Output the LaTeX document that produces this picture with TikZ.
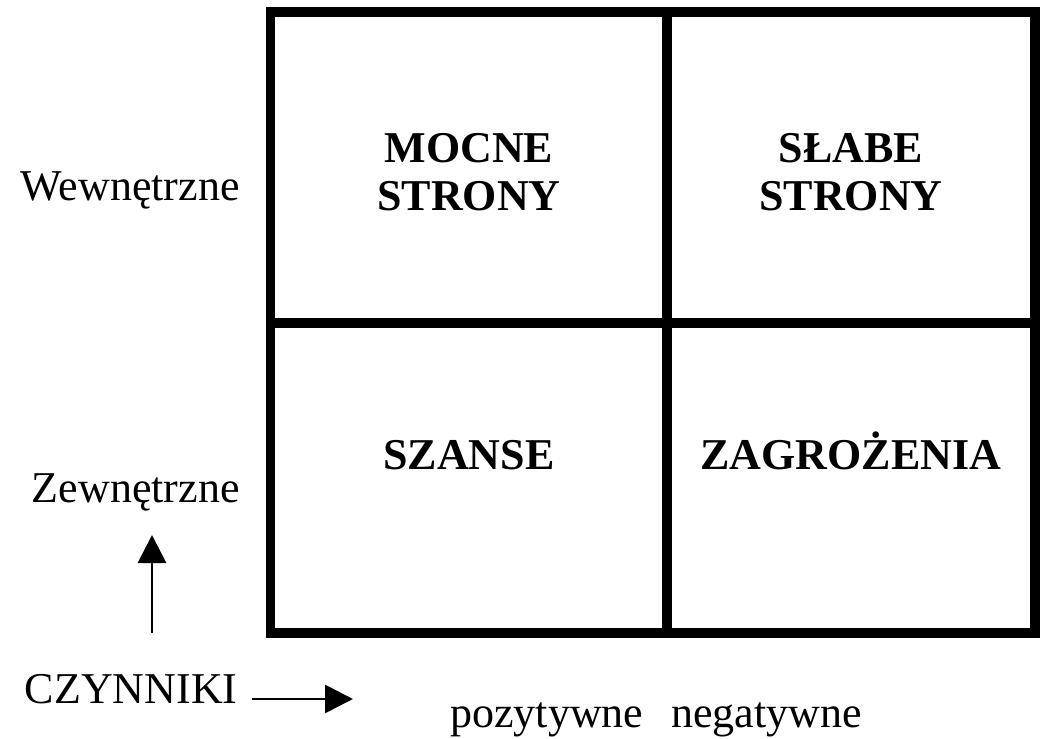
\documentclass[tikz,border=0pt]{standalone}
\usepackage{fontspec}
\setmainfont{Liberation Serif}
\usetikzlibrary{arrows.meta}
\tikzset{
  frame/.style={line width=4.8pt},
  factor/.style={-{Triangle[length=14pt,width=14pt]},line width=1.4pt}
}
\begin{document}
\begin{tikzpicture}[x=0.5pt,y=-0.5pt]
        \useasboundingbox (0,0) rectangle (1041,739);

        % the four fields
        \draw[frame] (270.5,12) rectangle (1035,633);
        \draw[frame] (667,12) -- (667,633);
        \draw[frame] (270.5,323) -- (1035,323);

        \begin{scope}[every node/.style={anchor=base,align=center,inner sep=0pt,font=\fontsize{22}{24}\selectfont\bfseries}]
          \node (mocne)     at (469,210) {MOCNE\\STRONY};
          \node (slabe)     at (851,210) {SŁABE\\STRONY};
          \node (szanse)    at (469,469) {SZANSE};
          \node (zagrozenia) at (851,469) {ZAGROŻENIA};
        \end{scope}

        \begin{scope}[every node/.style={inner sep=0pt,font=\fontsize{22}{24}\selectfont}]
          \node[anchor=base east] (wew)  at (240,200) {Wewnętrzne};
          \node[anchor=base east] (zew)  at (240,502) {Zewnętrzne};
          \node[anchor=base east] (czyn) at (238,703) {CZYNNIKI};
          \node[anchor=base west] (pozneg) at (450,727) {pozytywne\hspace{14pt}negatywne};
        \end{scope}

        \coordinate (hstart) at (252,699);
        \coordinate (hend)   at (353,699);
        \coordinate (vstart) at (152,633);
        \coordinate (vend)   at (152,535);

        \draw[factor] (hstart) -- (hend);
        \draw[factor] (vstart) -- (vend);

      \end{tikzpicture}
\end{document}
